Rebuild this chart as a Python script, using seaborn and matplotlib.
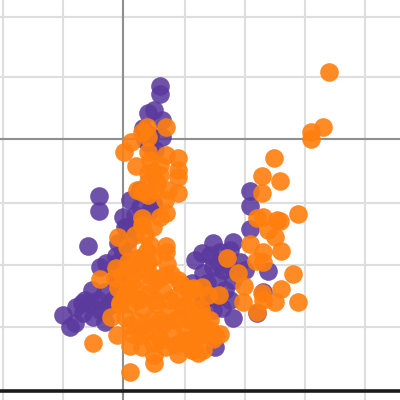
import pandas as pd
import seaborn as sns
import matplotlib.pyplot as plt

# values
purple_x = [37, 37, 31, 25, 39, 20, 39, 27, -24, -24, 7, 0, 30, 17, 4, -35, -23, -17, -60, -53, -48, -47, -41,
            -31, -30, -25, -18, -40, -33, -5, 2, 0, -6, -16, 127, 127, 127, 145, 110, 90, 79, 72, 97, 107, 90,
            100, 80, 122, 110, 94, 69, 110, 134, 140, 90, 80, 107, 92, 102, 117, 87, 95, 105, 77, 84, 92, 99,
            27, 22, 32, 17, 27, 12, 5, -7, -5, -10, -18, -6, 12, -23, -38]
purple_y = [53, 45, 29, 26, 19, 11, 2, -6, -57, -72, -61, -78, -64, -68, -88, -107, -128, -124, -176, -188, -184,
            -168, -164, -151, -178, -161, -183, -174, -164, -104, -88, -114, -143, -168, -52, -67, -90, -132, -103,
            -104, -114, -121, -113, -111, -128, -131, -134, -131, -141, -141, -144, -179, -174, -153, -171, -161,
            -161, -208, -151, -123, -116, -123, -126, -151, -144, -159, -169,
            4, -1, -11, -51, -71, -86, -101, -117, -123, -161, -153, -136, -76, -171, -161]

orange_x = [206, 200, 188, 188, 151, 139, 157, 139, 175, 134, 140, 157, 154, 145, 152, 127, 140, 158, 133, 140,
            104, 170, 115, 121, 158, 175, 152, 139, 140, 134, 120, 96, 79, 85, 70, 97, 87, 79, 82, 80, 69,
            43, 24, 19, 25, 8, 1, 25, 43, 55, 13, 55, 55, 30, 25, 37, 45, 55, 14, 19, 25, 34, 43, 37, 19, 19, 30,
            -5, 4, 24, 43, 43, -7, 7, -23, 25, -5, -3, -12, 2, -6, -30, 7, 19, 30, 31, 31, 7, 55, 70, 75,
            10, 22, 35, 48, 58, 12, 25, 40, 52, 65, 8, 20, 33, 45, 60, 72, 14, 28, 40, 55, 68, 78, 10, 24, 36,
            50, 62, 75, 90, 42, 58, 68, 5, 17, 29, 44, 30, 15,
            5, 15, 27, -1, 12, 27, 42, 55, 67, 2, 15, 32, 47, 62, 7, 22, 37, 52, 67, 77, 37, 52, 62, 17, -3, -8,
            27, 37, 12, 22, 42, 32, 25, 87, 92, 77]
orange_y = [67, 12, 7, 0, -19, -37, -42, -54, -75, -79, -78, -82, -81, -91, -98, -105, -113, -112, -122, -123,
            -119, -135, -134, -147, -150, -163, -163, -154, -161, -173, -163, -156, -148, -156, -149, -195, -191,
            -176, -188, -211, -211,
            12, 12, 7, 2, -3, -13, -13, -16, -19, -27, -31, -38, -33, -34, -36, -51, -54, -51, -53, -43, -44, -74,
            -78, -79, -86, -88, -98, -108, -112, -107, -113, -129, -128, -140, -124, -149, -164, -178, -178, -196,
            -204, -207, -208, -204, -224, -216, -233, -215, -211, -214,
            -135, -130, -140, -135, -145, -150, -155, -152, -158, -150, -165, -170, -165, -172, -168, -160, -182,
            -180, -185, -180, -178, -170, -195, -192, -198, -194, -190, -195, -200, -208, -203, -200, -150, -160,
            -145, -125, -118, -120,
            -123, -119, -106, -136, -141, -136, -136, -141, -151, -156, -161, -161, -161, -166, -186, -186, -181,
            -181, -181, -196, -201, -206, -201, -196, -166, -139,
            -21, -26, -96, -96, -61, -51, -56, -181, -196, -181]

x_ticks = [-120, -60, 0, 62, 122, 182, 242]
y_ticks = [122, 62, 0, -64, -126, -188]

df = pd.DataFrame({
    'x': purple_x + orange_x,
    'y': purple_y + orange_y,
    'group': ['a'] * len(purple_x) + ['b'] * len(orange_x),
})

sns.set_theme(style='white')
fig = plt.figure(figsize=(4, 4), dpi=100)
ax = fig.add_axes([0, 0, 1, 1])

# grid first, dots go over it
ax.set_xticks(x_ticks)
ax.set_yticks(y_ticks)
ax.grid(True, color='#dedede', linewidth=1.5)
ax.set_axisbelow(True)
ax.axvline(0, color='#8f8f8f', linewidth=1.5, zorder=1)
ax.axhline(0, color='#8f8f8f', linewidth=1.5, zorder=1)
ax.axhline(-252, color='#1a1a1a', linewidth=2.6, zorder=1)

for name, color, alpha in [('a', '#5b3a9e', 0.88), ('b', '#ff7f0e', 0.9)]:
    sns.scatterplot(data=df[df['group'] == name], x='x', y='y', color=color, alpha=alpha,
                    s=180, linewidth=0, ax=ax, legend=False, zorder=3)

ax.set_xlim(-123, 277)
ax.set_ylim(-261, 139)
ax.set_xlabel('')
ax.set_ylabel('')
ax.tick_params(length=0, labelbottom=False, labelleft=False)
sns.despine(ax=ax, left=True, bottom=True)

plt.savefig('out.png', dpi=100)
